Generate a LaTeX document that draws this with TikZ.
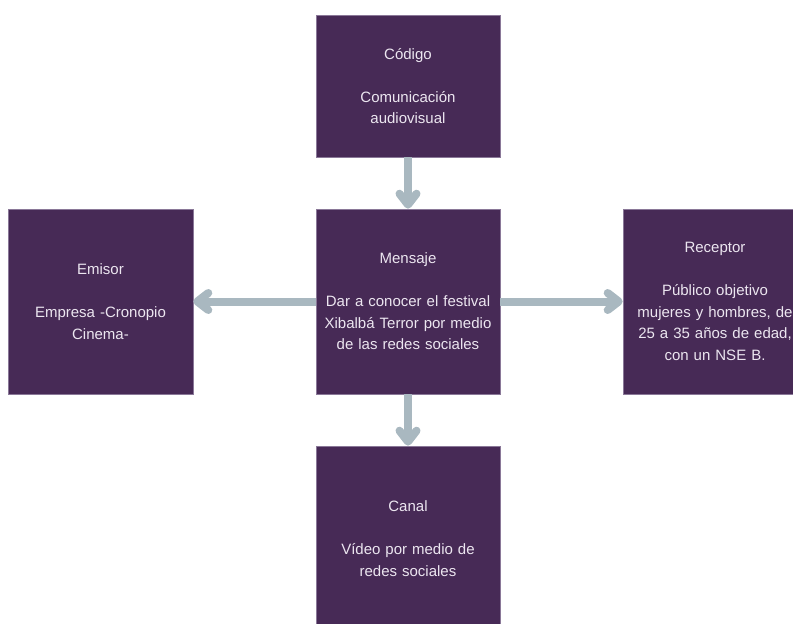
\documentclass[tikz,border=0pt]{standalone}
\usepackage{fontspec}
\setmainfont{Liberation Sans}
\usetikzlibrary{arrows.meta}
\definecolor{boxfill}{HTML}{472A56}
\definecolor{boxedge}{HTML}{8A7898}
\definecolor{txt}{HTML}{ECE6F0}
\definecolor{arrowc}{HTML}{A9B8C0}
\tikzset{
  box/.style={rectangle, fill=boxfill, draw=boxedge, line width=0.6bp,
    minimum width=184bp, minimum height=185bp, text width=180bp, align=center,
    text=txt, inner sep=0pt, font=\fontsize{15bp}{21.5bp}\selectfont},
  conn/.style={draw=arrowc, line width=8bp,
    -{Straight Barb[round,length=11bp,width=17bp]}}
}
\begin{document}
\begin{tikzpicture}[x=1bp,y=-1bp]
\useasboundingbox (0,0) rectangle (793,624);
\clip (0,0) rectangle (793,624);
\node[box, minimum height=142bp] (cod) at (408,86) {Código\\[21.5bp]Comunicación\\audiovisual};
\node[box, minimum width=185bp] (emi) at (100.5,301.5) {Emisor\\[21.5bp]Empresa -Cronopio\\Cinema-};
\node[box] (msg) at (408,301.5) {Mensaje\\[21.5bp]Dar a conocer el festival\\Xibalbá Terror por medio\\de las redes sociales};
\node[box] (rec) at (715,301.5) {Receptor\\[21.5bp]Público objetivo\\mujeres y hombres, de\\25 a 35 años de edad,\\con un NSE B.};
\node[box] (can) at (408,538.5) {Canal\\[21.5bp]Vídeo por medio de\\redes sociales};
\draw[conn] (cod.south) -- (msg.north);
\draw[conn] (msg.west) -- (emi.east);
\draw[conn] (msg.east) -- (rec.west);
\draw[conn] (msg.south) -- (can.north);
\end{tikzpicture}
\end{document}
